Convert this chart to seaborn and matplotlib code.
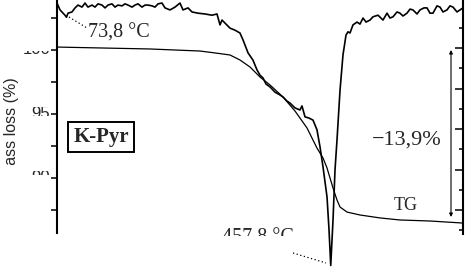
import numpy as np
import pandas as pd
import seaborn as sns
import matplotlib
matplotlib.use("Agg")
import matplotlib.pyplot as plt
from matplotlib.transforms import Bbox, TransformedBbox

# ---------------- data ----------------
tg_T = [60.0, 122.5, 195.1, 267.8, 289.6, 311.4, 325.9, 340.5, 355.0, 369.5,
        388.4, 405.9, 423.3, 437.8, 446.6, 452.4, 461.1, 466.9, 471.3, 481.4,
        500.3, 529.4, 558.4, 602.0, 650.0]
tg_mass = [100.23, 100.16, 100.08, 99.92, 99.77, 99.61, 99.22, 98.67, 97.89, 97.27,
           96.33, 95.23, 93.91, 92.34, 91.56, 90.78, 89.22, 88.28, 87.73, 87.34,
           87.11, 86.88, 86.72, 86.64, 86.48]

dta_T = [60.0, 64.4, 71.6, 73.8, 76.0, 81.8, 86.2, 90.5, 96.3, 100.7,
         105.0, 110.9, 115.2, 119.6, 125.4, 129.8, 134.1, 139.9, 144.3, 148.6,
         154.5, 158.8, 163.2, 169.0, 173.4, 177.7, 183.5, 187.9, 192.2, 198.1,
         202.4, 206.8, 212.6, 216.9, 224.2, 231.5, 238.7, 243.1, 250.4, 256.2,
         264.9, 275.1, 285.2, 292.5, 296.9, 299.8, 305.6, 311.4, 318.7, 325.9,
         330.3, 337.6, 344.8, 350.6, 355.0, 359.4, 363.7, 369.5, 376.8, 384.1,
         388.4, 394.2, 398.6, 405.9, 413.1, 416.0, 420.4, 426.2, 432.0, 437.8,
         442.2, 446.6, 452.4, 455.3, 457.8, 461.1, 464.0, 466.9, 471.3, 475.6,
         480.0, 482.9, 485.8, 490.1, 496.0, 500.3, 504.7, 509.1, 514.9, 519.2,
         526.5, 533.7, 539.6, 543.9, 548.3, 554.1, 558.4, 562.8, 568.6, 573.0,
         577.3, 583.2, 587.5, 593.3, 597.7, 602.0, 606.4, 612.2, 616.6, 620.9,
         626.7, 631.1, 635.5, 641.3, 645.6, 650.0]
dta_val = [5.11, 4.94, 4.81, 4.76, 4.86, 4.89, 4.99, 5.06, 5.01, 5.11,
           5.01, 5.06, 5.01, 5.09, 5.06, 4.99, 5.06, 5.09, 5.01, 5.06,
           5.04, 5.09, 5.06, 5.01, 5.06, 5.09, 5.01, 5.06, 5.06, 5.04,
           5.01, 5.09, 5.11, 4.99, 4.94, 5.01, 5.11, 4.94, 4.99, 4.89,
           4.86, 4.84, 4.81, 4.84, 4.57, 4.69, 4.59, 4.49, 4.44, 4.37,
           4.20, 3.88, 3.70, 3.46, 3.33, 3.26, 3.11, 3.04, 2.91, 2.84,
           2.79, 2.69, 2.64, 2.52, 2.47, 2.57, 2.30, 2.27, 2.22, 1.98,
           1.56, 1.06, 0.32, -0.49, -1.37, -0.25, 0.99, 1.73, 2.96, 3.83,
           4.32, 4.40, 4.37, 4.57, 4.64, 4.59, 4.74, 4.64, 4.69, 4.77,
           4.81, 4.69, 4.86, 4.74, 4.77, 4.89, 4.86, 4.79, 4.86, 4.96,
           4.94, 4.84, 4.94, 4.99, 4.99, 4.86, 4.86, 5.04, 5.01, 4.89,
           4.94, 5.04, 5.01, 4.89, 4.94, 4.99]

tg_major = [90, 95, 100]
tg_major_labels = ["90", "95", "100"]
tg_minor = [87.5, 92.5, 97.5, 102.5]
dta_major = [0, 1, 2, 3, 4]
dta_minor = [-0.5, 0.5, 1.5, 2.5, 3.5, 4.5]

# ---------------- figure ----------------
W, H = 466, 269
sns.set_theme(style="white")
plt.rcParams["font.family"] = ["Liberation Serif", "DejaVu Serif"]

fig = plt.figure(figsize=(W / 100, H / 100), dpi=100)
ax = fig.add_axes([57 / W, 0, 406 / W, 1])
ax2 = ax.twinx()


def X(px):
    return 60 + (px - 57) * 590 / 406


def M(py):
    return 100 + (50 - py) / 12.8


def V(py):
    return (210 - py) / 40.5


ax.set_xlim(60, 650)
ax.set_ylim(M(H), M(0))
ax2.set_ylim(V(H), V(0))

df_tg = pd.DataFrame({"T": tg_T, "mass": tg_mass})
df_dta = pd.DataFrame({"T": dta_T, "dta": dta_val})
sns.lineplot(data=df_tg, x="T", y="mass", ax=ax, color="black", lw=0.9,
             estimator=None, sort=False)
sns.lineplot(data=df_dta, x="T", y="dta", ax=ax2, color="black", lw=1.2,
             estimator=None, sort=False)
ax2.set_xlim(60, 650)

for a in (ax, ax2):
    a.set_xlabel("")
    a.set_ylabel("")
    a.patch.set_visible(False)
    for s in a.spines.values():
        s.set_visible(False)
        s.set_color("black")
ax.spines["left"].set_visible(True)
ax.spines["left"].set_linewidth(1.5)
ax.spines["left"].set_bounds(M(233), M(0))
ax2.spines["right"].set_visible(True)
ax2.spines["right"].set_linewidth(1.5)
ax2.spines["right"].set_bounds(V(234), V(0))

ax.set_xticks([])
ax2.set_xticks([])
ax.set_yticks(tg_major)
ax.set_yticks(tg_minor, minor=True)
ax.tick_params(axis="y", which="both", direction="out", length=4, width=1.1,
               left=True, right=False, labelleft=False, color="black")
ax2.set_yticks(dta_major)
ax2.set_yticks(dta_minor, minor=True)
ax2.tick_params(axis="y", which="major", direction="in", length=6, width=1.1,
                right=True, left=False, labelright=False, color="black")
ax2.tick_params(axis="y", which="minor", direction="in", length=3, width=1.1,
                right=True, left=False, labelright=False, color="black")


def clip_to(t, x0, y0, x1, y1):
    bb = Bbox.from_extents(x0 / W, 1 - y1 / H, x1 / W, 1 - y0 / H)
    t.set_clip_on(True)
    t.set_clip_box(TransformedBbox(bb, fig.transFigure))


# tick labels of the TG axis (only partly visible in the reference)
bands = {"100": (51, 56), "95": (107, 116), "90": (171, 175)}
for val, lab in zip(tg_major, tg_major_labels):
    ypx = 50 - (val - 100) * 12.8
    t = fig.text(50 / W, 1 - ypx / H, lab, ha="right", va="center",
                 fontsize=12, family="Liberation Sans")
    b = bands[lab]
    clip_to(t, 10, b[0], 55, b[1])

# y label (partly hidden)
t = fig.text(12 / W, 1 - 128 / H, "mass loss (%)", rotation=90, ha="center",
             va="center", fontsize=11.5, family="Liberation Sans")
clip_to(t, 0, 70, 30, 166)

# annotations
dot = (0, (1, 2))
ax.text(X(88), M(38), "73,8 °C", fontsize=14.5, ha="left", va="baseline")
ax.plot([X(69), X(87)], [M(17), M(28)], ls=dot, lw=0.9, color="black")

t = ax.text(X(222), M(243), "457,8 °C", fontsize=14.5, ha="left", va="baseline")
clip_to(t, 200, 226, 310, 236)
ax.plot([X(293), X(326)], [M(253), M(263)], ls=dot, lw=0.9, color="black",
        clip_on=False)

ax.text(X(101), M(137), "K-Pyr", fontsize=15, fontweight="bold", ha="center",
        va="center",
        bbox=dict(boxstyle="square,pad=0.25", fc="white", ec="black", lw=1.4))

ax.text(X(372), M(145), "−13,9%", fontsize=16, ha="left", va="baseline")
ax.text(X(406), M(210), "TG", fontsize=13, ha="center", va="baseline")
ax.annotate("", xy=(X(451), M(50)), xytext=(X(451), M(217)),
            arrowprops=dict(arrowstyle="<|-|>", mutation_scale=5, lw=0.8,
                            color="black", shrinkA=0, shrinkB=0))

fig.savefig("out.png", dpi=100)
